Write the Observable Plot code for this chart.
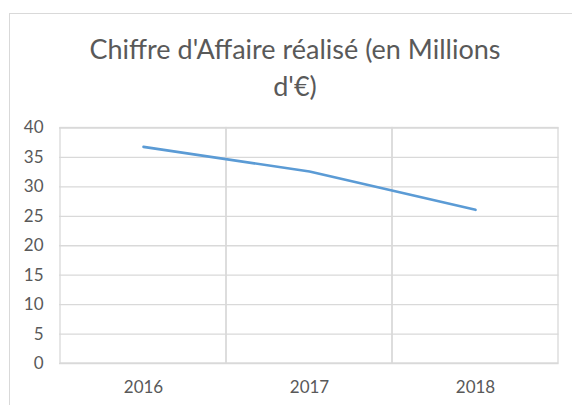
<!DOCTYPE html>
<html>
<head>
<meta charset="utf-8">
<script src="https://cdn.jsdelivr.net/npm/d3@7"></script>
<script src="https://cdn.jsdelivr.net/npm/@observablehq/plot@0.6"></script>
<style>
  html, body { margin: 0; padding: 0; background: #fff; overflow: hidden; }
  body { width: 572px; height: 405px; position: relative; }
  #frame { position: absolute; left: 9px; top: 13px; width: 572px; height: 420px; border: 1px solid #d9d9d9; box-sizing: border-box; }
  #title { position: absolute; left: 9px; top: 30px; width: 572px; text-align: center; font-family: Lato, sans-serif; font-size: 27px; line-height: 37px; color: #595959; }
  #chart { position: absolute; left: 0; top: 100px; }
</style>
</head>
<body>
<div id="frame"></div>
<div id="title">Chiffre d'Affaire réalisé (en Millions<br>d'€)</div>
<div id="chart"></div>
<script>
const years = ["2016", "2017", "2018"];
const revenue = [36.8, 32.6, 26.1];
const yTicks = [0, 5, 10, 15, 20, 25, 30, 35, 40];

const data = years.map((year, i) => ({year, value: revenue[i]}));

const plot = Plot.plot({
  width: 572,
  height: 305,
  marginTop: 27.5,
  marginBottom: 42,
  marginLeft: 59,
  marginRight: 13.5,
  style: {fontFamily: "Lato, sans-serif", fontSize: "17px", color: "#595959", background: "transparent"},
  x: {type: "band", domain: years, padding: 0, tickSize: 0, tickPadding: 17, label: null},
  y: {domain: [0, 40], ticks: yTicks, tickSize: 0, tickPadding: 16, label: null},
  marks: [
    Plot.ruleY(yTicks, {stroke: "#d9d9d9", strokeWidth: 1.3}),
    Plot.cell(years, {x: d => d, fill: "none", stroke: "#d9d9d9", strokeWidth: 1.3, inset: 0}),
    Plot.line(data, {x: "year", y: "value", stroke: "#5b9bd5", strokeWidth: 2.6, strokeLinecap: "round", strokeLinejoin: "round"})
  ]
});
document.getElementById("chart").appendChild(plot);
</script>
</body>
</html>
